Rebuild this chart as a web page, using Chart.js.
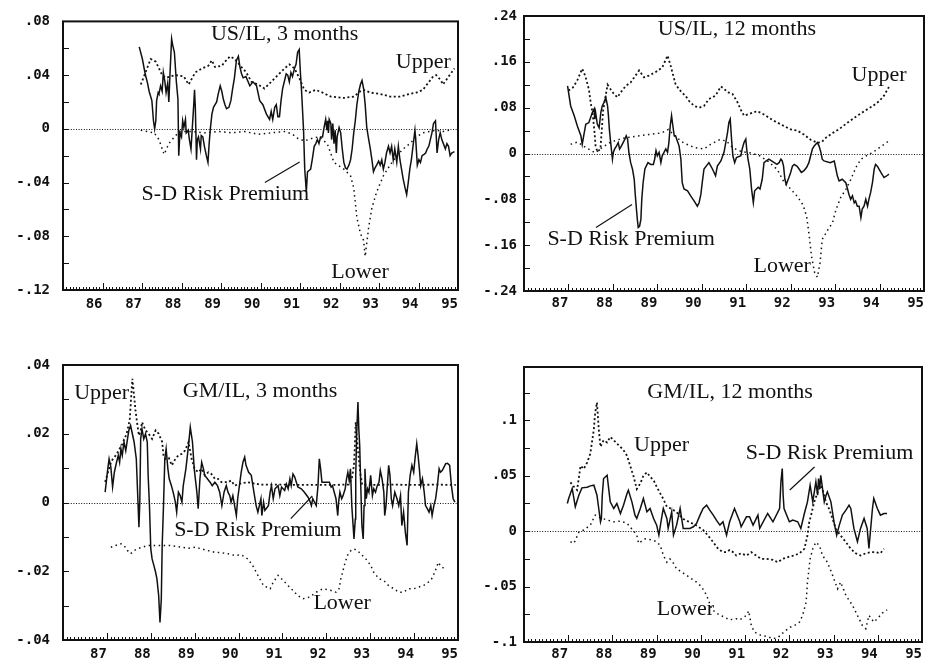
<!DOCTYPE html>
<html>
<head>
<meta charset="utf-8">
<script src="https://cdn.jsdelivr.net/npm/chart.js@4.4.1/dist/chart.umd.min.js"></script>
<style>
  body { margin: 0; background: #fff; }
  #wrap { position: relative; width: 928px; height: 667px; }
  canvas { position: absolute; }
</style>
</head>
<body>
<div id="wrap">
  <canvas id="usil3" width="464" height="320" style="left:0;top:0"></canvas>
  <canvas id="usil12" width="464" height="320" style="left:464px;top:0"></canvas>
  <canvas id="gmil3" width="464" height="347" style="left:0;top:320px"></canvas>
  <canvas id="gmil12" width="464" height="347" style="left:464px;top:320px"></canvas>
</div>
<script>
const INK = '#111'
const tickFont = { family: '"DejaVu Sans Mono", monospace', size: 14, weight: 'bold' }

// ---------- US/IL, 3 months ----------
const usil3Years = [86.93,87.01,87.08,87.14,87.18,87.25,87.29,87.32,87.35,87.37,
  87.41,87.43,87.47,87.51,87.54,87.58,87.61,87.65,87.68,87.71,
  87.75,87.78,87.82,87.87,87.91,87.93,87.96,88.00,88.03,88.06,
  88.10,88.12,88.17,88.20,88.24,88.27,88.31,88.33,88.35,88.38,
  88.40,88.43,88.48,88.50,88.54,88.58,88.63,88.67,88.70,88.73,
  88.77,88.81,88.85,88.89,88.93,88.98,89.02,89.06,89.10,89.14,
  89.20,89.25,89.29,89.34,89.39,89.44,89.48,89.52,
  89.56,89.63,89.73,89.81,89.90,89.98,90.06,90.15,90.23,90.27,
  90.31,90.36,90.40,90.44,90.48,90.52,90.56,90.61,90.65,90.69,
  90.73,90.77,90.81,90.86,90.90,90.94,90.98,91.01,91.04,91.09,
  91.12,91.16,91.19,91.23,91.27,91.31,91.36,91.40,91.44,91.48,
  91.52,91.57,91.61,91.65,91.68,91.70,91.72,91.74,91.78,91.80,
  91.83,91.86,91.89,91.92,91.94,91.99,92.03,92.07,92.11,92.15,
  92.19,92.24,92.28,92.32,92.36,92.40,92.44,92.49,92.53,92.57,
  92.61,92.65,92.69,92.74,92.78,92.82,92.86,92.90,92.94,92.99,
  93.03,93.07,93.11,93.15,93.19,93.24,93.28,93.32,93.36,93.40,
  93.45,93.49,93.53,93.57,93.61,93.66,93.70,93.74,93.78,93.82,
  93.86,93.91,93.93,93.97,94.01,94.05,94.09,94.14,94.18,94.22,
  94.26,94.30,94.34,94.38,94.43,94.47,94.51,94.55,94.59,94.63,
  94.68,94.72,94.76,94.80,94.84,94.91]
const usil3Premium = [0.061,0.052,0.041,0.034,0.028,0.021,0.006,0.000,0.006,0.021,
  0.027,0.026,0.032,0.028,0.042,0.035,0.027,0.034,0.020,0.042,
  0.067,0.062,0.057,0.035,0.022,-0.020,-0.003,-0.006,0.006,0.001,
  0.007,-0.003,-0.001,-0.008,-0.015,-0.001,0.018,0.029,0.016,-0.023,
  -0.008,-0.006,-0.015,-0.005,-0.006,-0.013,-0.020,-0.025,-0.011,0.000,
  0.011,0.016,0.018,0.020,0.026,0.032,0.028,0.022,0.018,0.015,
  0.016,0.021,0.029,0.038,0.051,0.054,0.046,0.041,
  0.038,0.039,0.032,0.035,0.032,0.021,0.018,0.011,0.007,0.013,
  0.007,0.016,0.018,0.009,0.009,0.021,0.030,0.036,0.041,0.040,
  0.035,0.042,0.039,0.045,0.048,0.057,0.059,0.042,0.028,-0.001,
  -0.030,-0.047,-0.032,-0.031,-0.030,-0.023,-0.013,-0.011,-0.008,-0.011,
  -0.006,-0.006,0.001,0.007,-0.001,0.006,-0.003,0.007,0.004,-0.008,
  0.004,-0.011,-0.001,-0.018,-0.006,0.001,-0.003,-0.015,-0.025,-0.029,
  -0.030,-0.027,-0.023,-0.015,-0.003,0.006,0.018,0.028,0.033,0.036,
  0.030,0.018,0.001,-0.008,-0.015,-0.023,-0.032,-0.029,-0.027,-0.024,
  -0.027,-0.023,-0.030,-0.025,-0.018,-0.013,-0.018,-0.013,-0.023,-0.015,
  -0.025,-0.013,-0.023,-0.030,-0.037,-0.044,-0.049,-0.040,-0.030,-0.023,
  -0.013,-0.001,-0.008,-0.027,-0.023,-0.025,-0.020,-0.019,-0.018,-0.015,
  -0.013,-0.008,-0.003,0.004,0.006,-0.018,-0.008,-0.003,-0.008,-0.011,
  -0.015,-0.011,-0.013,-0.020,-0.018,-0.017]
const usil3UpperYears = [86.97,87.22,87.35,87.51,87.60,87.85,88.06,88.18,88.35,88.52,
  88.68,88.77,88.85,89.02,89.10,89.23,89.35,89.52,89.64,89.77,
  89.94,90.10,90.27,90.44,90.61,90.73,90.86,90.98,91.11,91.23,
  91.40,91.57,91.78,92.11,92.36,92.53,92.61,92.78,93.03,93.28,
  93.53,93.78,93.95,94.11,94.24,94.37,94.45,94.57,94.62,94.74,94.91]
const usil3Upper = [0.033,0.052,0.050,0.040,0.038,0.040,0.039,0.033,0.042,0.045,
  0.047,0.051,0.046,0.047,0.050,0.054,0.052,0.046,0.042,0.035,
  0.033,0.030,0.035,0.040,0.045,0.048,0.045,0.038,0.029,0.027,
  0.029,0.027,0.024,0.023,0.024,0.028,0.029,0.027,0.026,0.024,
  0.024,0.026,0.027,0.029,0.034,0.039,0.040,0.036,0.033,0.038,0.045]
const usil3LowerYears = [86.97,87.14,87.31,87.43,87.56,87.68,87.85,87.97,88.27,88.60,
  88.93,89.27,89.60,89.94,90.27,90.61,90.81,90.94,91.11,91.32,
  91.48,91.69,91.86,92.11,92.28,92.36,92.44,92.53,92.61,92.65,
  92.74,92.82,92.94,93.11,93.28,93.45,93.61,93.78,93.95,94.11,
  94.28,94.45,94.62,94.78]
const usil3Lower = [-0.001,-0.002,-0.003,-0.008,-0.019,-0.011,-0.005,-0.002,-0.002,-0.003,
  -0.002,-0.003,-0.002,-0.004,-0.003,-0.002,-0.004,-0.007,-0.009,-0.007,
  -0.006,-0.011,-0.025,-0.030,-0.035,-0.044,-0.066,-0.078,-0.083,-0.095,
  -0.073,-0.059,-0.047,-0.035,-0.027,-0.020,-0.015,-0.011,-0.006,-0.003,
  -0.002,-0.001,-0.002,-0.001]

// ---------- US/IL, 12 months ----------
const usil12Years = [86.98,87.05,87.13,87.20,87.28,87.31,87.35,87.39,87.46,87.54,
  87.58,87.59,87.61,87.65,87.69,87.73,87.76,87.80,87.84,87.88,
  87.90,87.92,87.95,87.99,88.01,88.04,88.08,88.12,88.15,88.19,
  88.23,88.27,88.30,88.33,88.36,88.40,88.44,88.48,88.50,88.53,
  88.55,88.57,88.60,88.63,88.65,88.68,88.72,88.75,88.79,88.85,
  88.91,88.94,88.97,89.00,89.04,89.08,89.11,89.15,89.19,89.23,
  89.26,89.29,89.32,89.35,89.38,89.41,89.45,89.49,89.53,89.56,
  89.60,89.68,89.75,89.83,89.90,89.94,89.98,90.01,90.05,90.13,
  90.16,90.24,90.31,90.35,90.43,90.50,90.54,90.58,90.61,90.64,
  90.67,90.70,90.74,90.78,90.88,90.91,90.95,90.99,91.01,91.04,
  91.08,91.12,91.14,91.16,91.19,91.27,91.31,91.36,91.40,91.45,
  91.51,91.63,91.69,91.74,91.78,91.81,91.84,91.87,91.90,91.96,
  92.00,92.04,92.08,92.14,92.19,92.24,92.30,92.36,92.41,92.45,
  92.49,92.53,92.60,92.64,92.68,92.71,92.75,92.89,92.98,93.01,
  93.05,93.09,93.16,93.24,93.28,93.31,93.35,93.39,93.43,93.46,
  93.50,93.54,93.58,93.61,93.65,93.69,93.73,93.76,93.80,93.84,
  93.88,93.91,93.95,94.03,94.10,94.18,94.21]
const usil12Premium = [0.118,0.083,0.066,0.048,0.031,0.016,0.034,0.051,0.054,0.072,
  0.078,0.060,0.072,0.051,0.045,0.072,0.083,0.089,0.098,0.083,
  0.066,0.043,0.019,-0.010,0.002,0.008,0.013,0.019,0.008,0.013,
  0.019,0.025,0.031,0.025,0.002,-0.016,-0.027,-0.045,-0.068,-0.097,
  -0.115,-0.129,-0.127,-0.115,-0.080,-0.051,-0.027,-0.022,-0.016,-0.019,
  -0.019,-0.010,0.005,-0.004,0.002,-0.016,-0.004,0.002,0.008,0.002,
  0.019,0.048,0.066,0.048,0.031,0.031,0.022,0.013,-0.010,-0.051,
  -0.062,-0.065,-0.074,-0.083,-0.092,-0.086,-0.071,-0.051,-0.027,-0.019,
  -0.016,-0.027,-0.039,-0.022,-0.013,0.002,0.019,0.037,0.054,0.060,
  0.025,-0.004,-0.016,-0.007,-0.004,0.008,0.019,0.025,0.008,-0.010,
  -0.027,-0.062,-0.074,-0.086,-0.065,-0.059,-0.062,-0.045,-0.016,-0.013,
  -0.010,-0.016,-0.019,-0.016,-0.010,-0.013,-0.022,-0.045,-0.054,-0.042,
  -0.033,-0.022,-0.019,-0.022,-0.027,-0.033,-0.030,-0.024,-0.016,-0.004,
  0.008,0.013,0.019,0.013,0.002,-0.010,-0.013,-0.016,-0.013,-0.024,
  -0.039,-0.048,-0.045,-0.051,-0.062,-0.071,-0.080,-0.074,-0.086,-0.083,
  -0.092,-0.092,-0.112,-0.097,-0.092,-0.080,-0.092,-0.080,-0.068,-0.051,
  -0.027,-0.019,-0.022,-0.033,-0.042,-0.038,-0.036]
const usil12UpperYears = [87.00,87.10,87.20,87.31,87.38,87.46,87.50,87.54,87.58,87.61,
  87.65,87.72,87.78,87.88,87.99,88.10,88.18,88.29,88.40,88.59,
  88.70,88.81,88.96,89.11,89.23,89.30,89.41,89.49,89.56,89.64,
  89.71,89.83,89.94,90.05,90.16,90.31,90.43,90.50,90.58,90.69,
  90.80,90.88,90.95,91.10,91.25,91.40,91.60,91.80,92.00,92.15,
  92.30,92.45,92.60,92.70,92.80,92.95,93.10,93.30,93.50,93.70,
  93.85,94.00,94.10,94.18,94.21]
const usil12Upper = [0.110,0.115,0.128,0.148,0.135,0.112,0.089,0.072,0.043,0.014,
  0.003,0.008,0.075,0.120,0.107,0.098,0.107,0.118,0.124,0.145,
  0.133,0.136,0.142,0.150,0.171,0.153,0.121,0.112,0.106,0.100,
  0.092,0.083,0.080,0.083,0.095,0.101,0.117,0.113,0.107,0.104,
  0.090,0.076,0.066,0.070,0.074,0.068,0.058,0.050,0.042,0.040,
  0.033,0.024,0.019,0.020,0.028,0.036,0.043,0.055,0.066,0.076,
  0.083,0.092,0.101,0.112,0.116]
const usil12LowerYears = [87.05,87.20,87.40,87.60,87.75,87.95,88.20,88.50,88.80,89.10,
  89.25,89.40,89.60,89.85,90.05,90.20,90.40,90.55,90.70,90.90,
  91.10,91.30,91.50,91.70,91.85,92.00,92.15,92.28,92.36,92.42,
  92.47,92.54,92.60,92.66,92.71,92.83,92.94,93.02,93.13,93.24,
  93.36,93.47,93.58,93.70,93.85,94.03,94.21]
const usil12Lower = [0.016,0.020,0.010,0.001,0.010,0.020,0.026,0.030,0.033,0.036,
  0.042,0.030,0.018,0.010,0.008,0.016,0.024,0.022,0.010,0.003,
  0.001,-0.004,-0.014,-0.028,-0.050,-0.062,-0.075,-0.090,-0.110,-0.145,
  -0.180,-0.208,-0.216,-0.192,-0.150,-0.134,-0.121,-0.098,-0.076,-0.063,
  -0.044,-0.024,-0.010,-0.004,0.002,0.012,0.022]

// ---------- GM/IL, 3 months ----------
const gmil3Years = [86.96,87.02,87.05,87.09,87.13,87.17,87.22,87.26,87.29,87.32,
  87.35,87.39,87.43,87.47,87.50,87.54,87.58,87.62,87.67,87.71,
  87.73,87.75,87.77,87.80,87.84,87.88,87.92,87.94,87.97,88.00,
  88.03,88.07,88.11,88.14,88.18,88.21,88.24,88.26,88.29,88.32,
  88.35,88.39,88.42,88.47,88.51,88.56,88.59,88.63,88.67,88.71,
  88.74,88.80,88.86,88.90,88.95,88.99,89.05,89.08,89.12,89.16,
  89.20,89.23,89.29,89.35,89.40,89.46,89.52,89.57,89.62,89.67,
  89.72,89.76,89.80,89.83,89.87,89.91,89.95,89.98,90.02,90.06,
  90.10,90.14,90.17,90.23,90.29,90.35,90.40,90.44,90.51,90.53,
  90.57,90.60,90.68,90.72,90.75,90.79,90.83,90.90,90.94,90.98,
  91.05,91.09,91.13,91.17,91.20,91.24,91.28,91.35,91.43,91.50,
  91.58,91.62,91.66,91.69,91.77,91.81,91.84,91.87,91.90,91.98,
  92.07,92.11,92.14,92.18,92.22,92.26,92.28,92.31,92.35,92.38,
  92.43,92.46,92.49,92.52,92.55,92.58,92.61,92.63,92.66,92.67,
  92.69,92.72,92.74,92.76,92.78,92.81,92.84,92.86,92.88,92.91,
  92.94,92.97,93.01,93.05,93.08,93.12,93.16,93.20,93.23,93.27,
  93.31,93.33,93.36,93.39,93.42,93.45,93.48,93.51,93.56,93.61,
  93.65,93.69,93.72,93.76,93.80,93.84,93.87,93.91,93.95,93.99,
  94.02,94.06,94.09,94.12,94.15,94.19,94.23,94.26,94.30,94.34,
  94.38,94.41,94.45,94.49,94.53,94.57,94.60,94.64,94.68,94.72,
  94.76,94.81,94.85,94.89,94.93]
const gmil3Premium = [0.0030,0.0098,0.0127,0.0103,0.0045,0.0088,0.0117,0.0137,0.0117,0.0156,
  0.0137,0.0176,0.0151,0.0185,0.0210,0.0224,0.0200,0.0176,0.0127,-0.0004,
  -0.0072,0.0001,0.0185,0.0214,0.0185,0.0200,0.0176,0.0079,-0.0009,-0.0135,
  -0.0164,-0.0183,-0.0203,-0.0222,-0.0271,-0.0349,-0.0281,-0.0125,-0.0009,0.0127,
  0.0156,0.0098,0.0069,0.0049,0.0030,0.0001,-0.0028,0.0030,0.0020,0.0001,
  0.0049,0.0098,0.0166,0.0219,0.0176,0.0098,0.0030,-0.0018,0.0069,0.0117,
  0.0098,0.0079,0.0069,0.0059,0.0049,0.0059,0.0049,0.0030,-0.0009,0.0030,
  0.0049,0.0030,0.0020,0.0001,0.0020,-0.0009,-0.0038,0.0011,0.0049,0.0088,
  0.0117,0.0132,0.0108,0.0088,0.0079,0.0030,-0.0009,-0.0028,0.0011,-0.0038,
  0.0001,-0.0023,-0.0009,0.0030,0.0049,0.0011,0.0040,0.0049,0.0020,0.0045,
  0.0035,0.0054,0.0040,0.0069,0.0049,0.0083,0.0074,0.0045,0.0040,0.0030,
  0.0016,0.0006,-0.0009,0.0011,-0.0009,0.0049,0.0127,0.0098,0.0059,0.0059,
  0.0059,0.0045,0.0049,0.0030,0.0011,-0.0038,0.0001,0.0030,0.0011,0.0020,
  0.0040,0.0069,0.0088,0.0064,0.0098,-0.0009,-0.0067,-0.0106,-0.0048,0.0079,
  0.0195,0.0292,0.0214,0.0166,0.0069,-0.0067,-0.0106,-0.0009,0.0098,0.0011,
  0.0040,0.0030,0.0079,0.0020,0.0040,0.0030,0.0049,0.0059,0.0093,0.0069,
  0.0030,-0.0038,-0.0009,0.0049,0.0108,0.0079,0.0011,-0.0009,0.0030,0.0011,
  -0.0009,0.0020,-0.0067,-0.0028,-0.0086,-0.0125,0.0030,0.0079,0.0108,0.0088,
  0.0127,0.0171,0.0137,0.0098,0.0049,0.0069,0.0030,-0.0009,-0.0018,-0.0028,
  -0.0009,-0.0038,-0.0009,0.0011,0.0049,0.0098,0.0088,0.0093,0.0103,0.0113,
  0.0114,0.0108,0.0049,0.0011,0.0001]
const gmil3UpperYears = [86.96,87.10,87.22,87.35,87.45,87.52,87.55,87.58,87.62,87.65,
  87.69,87.73,87.77,87.80,87.88,87.95,88.03,88.11,88.18,88.26,
  88.29,88.33,88.41,88.48,88.56,88.63,88.71,88.78,88.86,88.93,
  89.00,89.08,89.16,89.23,89.31,89.38,89.46,89.53,89.61,89.76,
  89.83,89.91,90.00,90.20,90.50,91.00,91.50,92.00,92.50,92.58,
  92.63,92.65,92.67,92.69,92.74,92.78,92.82,93.00,93.50,94.00,
  94.50,94.95]
const gmil3Upper = [0.006,0.012,0.014,0.017,0.020,0.024,0.030,0.036,0.031,0.027,
  0.023,0.0195,0.021,0.0234,0.021,0.020,0.0185,0.021,0.020,0.0176,
  0.0137,0.0127,0.013,0.0108,0.0127,0.0137,0.0142,0.0151,0.0176,0.0127,
  0.0098,0.0088,0.0098,0.0079,0.0088,0.0083,0.0069,0.0069,0.0059,0.0059,
  0.0064,0.0049,0.0054,0.0059,0.0052,0.0052,0.0051,0.0051,0.0052,0.0069,
  0.0108,0.0166,0.0234,0.0195,0.0127,0.0079,0.0051,0.0051,0.0052,0.0051,
  0.0052,0.0051]
const gmil3LowerYears = [87.09,87.20,87.32,87.39,87.47,87.54,87.62,87.69,87.80,87.95,
  88.11,88.26,88.41,88.56,88.71,88.86,89.01,89.16,89.31,89.46,
  89.61,89.76,89.91,90.06,90.21,90.32,90.44,90.57,90.72,90.79,
  90.90,91.02,91.13,91.24,91.35,91.47,91.62,91.77,91.92,92.11,
  92.22,92.29,92.33,92.37,92.41,92.48,92.56,92.63,92.71,92.78,
  92.90,93.01,93.08,93.20,93.31,93.42,93.54,93.65,93.76,93.87,
  93.99,94.10,94.21,94.32,94.40,94.47,94.55,94.62,94.74]
const gmil3Lower = [-0.0130,-0.0125,-0.0120,-0.0125,-0.0140,-0.0149,-0.0140,-0.0135,-0.0130,-0.0125,
  -0.0125,-0.0125,-0.0125,-0.0127,-0.0130,-0.0133,-0.0130,-0.0135,-0.0140,-0.0145,
  -0.0146,-0.0149,-0.0154,-0.0152,-0.0164,-0.0183,-0.0212,-0.0242,-0.0251,-0.0232,
  -0.0212,-0.0227,-0.0242,-0.0256,-0.0271,-0.0280,-0.0275,-0.0261,-0.0251,-0.0256,
  -0.0261,-0.0251,-0.0222,-0.0203,-0.0183,-0.0154,-0.0140,-0.0135,-0.0140,-0.0149,
  -0.0164,-0.0183,-0.0203,-0.0222,-0.0227,-0.0242,-0.0251,-0.0261,-0.0261,-0.0251,
  -0.0251,-0.0246,-0.0242,-0.0232,-0.0222,-0.0203,-0.0174,-0.0188,-0.0193]

// ---------- GM/IL, 12 months ----------
const gmil12Years = [86.98,87.01,87.09,87.16,87.24,87.31,87.43,87.50,87.58,87.65,
  87.69,87.73,87.75,87.77,87.80,87.88,87.91,87.95,88.03,88.10,
  88.18,88.25,88.33,88.36,88.44,88.51,88.55,88.63,88.70,88.78,
  88.85,88.93,89.00,89.05,89.11,89.15,89.23,89.26,89.34,89.38,
  89.45,89.53,89.60,89.68,89.75,89.83,89.90,89.98,90.05,90.13,
  90.20,90.28,90.35,90.43,90.50,90.58,90.65,90.76,90.88,90.91,
  91.03,91.10,91.18,91.29,91.33,91.51,91.63,91.78,91.81,91.84,
  91.86,91.88,92.00,92.08,92.19,92.26,92.34,92.41,92.47,92.53,
  92.60,92.64,92.66,92.69,92.71,92.74,92.79,92.83,92.86,92.94,
  93.01,93.07,93.13,93.20,93.28,93.35,93.39,93.46,93.54,93.61,
  93.69,93.76,93.80,93.88,93.91,93.99,94.06,94.14,94.21]
const gmil12Premium = [0.0249,0.0294,0.0384,0.0219,0.0324,0.0390,0.0396,0.0408,0.0414,0.0324,
  0.0204,0.0084,0.0114,0.0324,0.0474,0.0504,0.0399,0.0264,0.0204,0.0249,
  0.0159,0.0234,0.0339,0.0369,0.0264,0.0144,0.0114,0.0204,0.0294,0.0174,
  0.0204,0.0114,0.0054,-0.0036,0.0114,0.0204,0.0114,0.0024,0.0174,-0.0036,
  0.0054,0.0204,0.0024,0.0024,0.0024,0.0039,0.0069,0.0144,0.0204,0.0234,
  0.0189,0.0144,0.0099,0.0054,0.0084,-0.0036,0.0084,0.0204,0.0084,0.0039,
  0.0129,0.0129,0.0054,0.0144,0.0024,0.0159,0.0084,0.0204,0.0444,0.0564,
  0.0324,0.0204,0.0084,0.0099,0.0084,0.0024,0.0159,0.0264,0.0414,0.0264,
  0.0444,0.0324,0.0474,0.0384,0.0504,0.0414,0.0264,0.0324,0.0354,0.0264,
  0.0084,-0.0036,0.0054,0.0144,0.0189,0.0234,0.0204,0.0024,-0.0096,0.0024,
  0.0114,0.0024,-0.0156,0.0204,0.0294,0.0204,0.0144,0.0159,0.0159]
const gmil12UpperYears = [87.05,87.13,87.20,87.28,87.35,87.43,87.50,87.58,87.61,87.65,
  87.69,87.73,87.80,87.88,87.95,88.03,88.10,88.18,88.25,88.33,
  88.40,88.48,88.55,88.63,88.70,88.78,88.85,88.93,89.00,89.08,
  89.15,89.23,89.34,89.45,89.60,89.75,89.90,90.05,90.16,90.28,
  90.39,90.50,90.58,90.65,90.73,90.80,90.91,91.03,91.14,91.25,
  91.36,91.48,91.63,91.74,91.85,92.00,92.11,92.23,92.34,92.41,
  92.45,92.49,92.56,92.64,92.71,92.76,92.83,92.90,92.98,93.05,
  93.16,93.28,93.39,93.50,93.61,93.73,93.84,93.95,94.06,94.14]
const gmil12Upper = [0.044,0.040,0.037,0.059,0.056,0.062,0.070,0.092,0.107,0.116,
  0.092,0.076,0.082,0.080,0.085,0.082,0.079,0.076,0.073,0.068,
  0.059,0.049,0.038,0.043,0.050,0.053,0.049,0.046,0.040,0.034,
  0.029,0.022,0.020,0.017,0.011,0.008,0.005,0.001,-0.004,-0.010,
  -0.016,-0.019,-0.019,-0.017,-0.019,-0.022,-0.020,-0.022,-0.019,-0.022,
  -0.025,-0.025,-0.026,-0.028,-0.025,-0.023,-0.022,-0.020,-0.016,-0.004,
  0.008,0.014,0.026,0.035,0.041,0.036,0.026,0.020,0.011,0.002,
  -0.004,-0.010,-0.016,-0.020,-0.022,-0.020,-0.019,-0.019,-0.020,-0.016]
const gmil12LowerYears = [87.05,87.13,87.24,87.35,87.50,87.61,87.73,87.88,88.03,88.18,
  88.33,88.48,88.55,88.59,88.74,88.90,89.00,89.08,89.15,89.23,
  89.30,89.38,89.45,89.57,89.68,89.79,89.90,90.01,90.09,90.16,
  90.24,90.35,90.50,90.65,90.80,90.88,91.03,91.08,91.14,91.21,
  91.36,91.50,91.63,91.74,91.85,92.00,92.12,92.23,92.30,92.38,
  92.41,92.47,92.53,92.60,92.68,92.75,92.86,92.98,93.09,93.16,
  93.28,93.43,93.54,93.65,93.73,93.80,93.91,93.99,94.10,94.21]
const gmil12Lower = [-0.0096,-0.011,-0.001,0.001,0.0054,0.0144,0.012,0.010,0.0084,0.009,
  0.007,0.000,-0.0036,-0.011,-0.007,-0.008,-0.0096,-0.013,-0.0216,-0.028,
  -0.025,-0.029,-0.034,-0.037,-0.040,-0.043,-0.046,-0.050,-0.055,-0.061,
  -0.070,-0.074,-0.077,-0.080,-0.079,-0.080,-0.076,-0.072,-0.085,-0.091,
  -0.094,-0.095,-0.097,-0.096,-0.092,-0.087,-0.085,-0.082,-0.076,-0.064,
  -0.046,-0.025,-0.016,-0.010,-0.013,-0.022,-0.028,-0.040,-0.052,-0.046,
  -0.058,-0.067,-0.076,-0.085,-0.088,-0.076,-0.082,-0.079,-0.074,-0.071]

// tick labels
const yearLabelsFrom86 = [86,87,88,89,90,91,92,93,94,95]
const yearLabelsFrom87 = [87,88,89,90,91,92,93,94,95]
const usil3YTicks = [-0.12,-0.08,-0.04,0,0.04,0.08]
const usil12YTicks = [-0.24,-0.16,-0.08,0,0.08,0.16,0.24]
const gmil3YTicks = [-0.04,-0.02,0,0.02,0.04]
const gmil12YTicks = [-0.1,-0.05,0,0.05,0.1]


function pts(xs, ys){
    return xs.map((x, i) => ({x: x, y: ys[i]}))
}

function fmtTick(v){
    if(Math.abs(v) < 1e-9) return '0'
    let s = String(+Math.abs(v).toFixed(3)).replace(/^0/, '')
    return (v < 0 ? '-' : '') + s
}

const decor = {
    id: 'decor',
    beforeDatasetsDraw(chart, args, o){
        const {ctx, chartArea: a, scales: {y}} = chart
        let y0 = Math.round(y.getPixelForValue(0)) + 0.5
        ctx.save()
        ctx.strokeStyle = INK
        ctx.lineWidth = 1
        ctx.setLineDash([1, 1.6])
        ctx.beginPath()
        ctx.moveTo(a.left, y0)
        ctx.lineTo(a.right, y0)
        ctx.stroke()
        ctx.restore()
    },
    afterDraw(chart, args, o){
        const {ctx, chartArea: a, scales: {x, y}} = chart
        ctx.save()
        ctx.strokeStyle = INK
        ctx.lineWidth = 1
        ctx.beginPath()
        // monthly ticks, yearly ones taller
        let months = Math.round((x.max - x.min) * 12)
        for(let m = 1; m < months; m++){
            let px = Math.round(x.getPixelForValue(x.min + m / 12)) + 0.5
            let len = (m % 12 == 0) ? 7 : 3
            ctx.moveTo(px, a.bottom)
            ctx.lineTo(px, a.bottom - len)
        }
        let n = Math.round((y.max - y.min) / o.yMinor)
        for(let k = 1; k < n; k++){
            let py = Math.round(y.getPixelForValue(y.min + k * o.yMinor)) + 0.5
            ctx.moveTo(a.left, py)
            ctx.lineTo(a.left + 6, py)
        }
        ctx.stroke()

        ctx.lineWidth = 2
        ctx.strokeRect(a.left, a.top, a.right - a.left, a.bottom - a.top)

        ctx.lineWidth = 1.2
        const leaders = o.leaders || []
        leaders.forEach(l => {
            ctx.beginPath()
            ctx.moveTo(x.getPixelForValue(l[0]), y.getPixelForValue(l[1]))
            ctx.lineTo(x.getPixelForValue(l[2]), y.getPixelForValue(l[3]))
            ctx.stroke()
        })

        ctx.fillStyle = INK
        ctx.font = '22px "Liberation Serif", "Times New Roman", serif'
        ctx.textAlign = 'center'
        ctx.textBaseline = 'middle'
        o.notes.forEach(nt => {
            ctx.fillText(nt.text, x.getPixelForValue(nt.x), y.getPixelForValue(nt.y))
        })
        ctx.restore()
    }
}

function makePanel(id, c){
    return new Chart(document.getElementById(id), {
        type: 'line',
        data: {
            datasets: [
                {data: pts(c.lowerX, c.lower), borderColor: INK, borderWidth: 1.5, borderDash: [1.5, 3.5]},
                {data: pts(c.upperX, c.upper), borderColor: INK, borderWidth: 1.8, borderDash: [2, 2.5]},
                {data: pts(c.premX, c.prem), borderColor: INK, borderWidth: 1.5}
            ]
        },
        options: {
            responsive: false,
            animation: false,
            devicePixelRatio: 1,
            layout: {padding: c.pad},
            elements: {point: {radius: 0}, line: {tension: 0}},
            plugins: {
                legend: {display: false},
                tooltip: {enabled: false},
                decor: {yMinor: c.yMinor, notes: c.notes, leaders: c.leaders}
            },
            scales: {
                x: {
                    type: 'linear', min: c.xMin, max: 95,
                    grid: {display: false, drawTicks: false},
                    border: {display: false},
                    afterBuildTicks: s => { s.ticks = c.xTicks.map(v => ({value: v})) },
                    afterFit: s => { s.height = c.xH },
                    ticks: {align: 'end', font: tickFont, color: INK, padding: c.xPad,
                            maxRotation: 0, autoSkip: false, callback: v => String(v)}
                },
                y: {
                    type: 'linear', min: c.yMin, max: c.yMax,
                    grid: {display: false, drawTicks: false},
                    border: {display: false},
                    afterBuildTicks: s => { s.ticks = c.yTicks.map(v => ({value: v})) },
                    afterFit: s => { s.width = c.yW },
                    ticks: {font: tickFont, color: INK, padding: c.yPad, autoSkip: false, callback: fmtTick}
                }
            }
        },
        plugins: [decor]
    })
}

makePanel('usil3', {
    premX: usil3Years, prem: usil3Premium,
    upperX: usil3UpperYears, upper: usil3Upper,
    lowerX: usil3LowerYears, lower: usil3Lower,
    xMin: 85, xTicks: yearLabelsFrom86,
    yMin: -0.12, yMax: 0.08, yTicks: usil3YTicks, yMinor: 0.02,
    pad: {top: 15, right: 2, left: 0, bottom: 0}, xH: 30, yW: 63, xPad: 6, yPad: 13,
    notes: [
        {text: 'US/IL, 3 months', x: 90.61, y: 0.0705},
        {text: 'Upper', x: 94.12, y: 0.0494},
        {text: 'S-D Risk Premium', x: 89.11, y: -0.0487},
        {text: 'Lower', x: 92.52, y: -0.107}
    ],
    leaders: [[90.11, -0.040, 90.99, -0.0247]]
})

makePanel('usil12', {
    premX: usil12Years, prem: usil12Premium,
    upperX: usil12UpperYears, upper: usil12Upper,
    lowerX: usil12LowerYears, lower: usil12Lower,
    xMin: 86, xTicks: yearLabelsFrom87,
    yMin: -0.24, yMax: 0.24, yTicks: usil12YTicks, yMinor: 0.04,
    pad: {top: 16, right: 4, left: 0, bottom: 0}, xH: 29, yW: 60, xPad: 4, yPad: 7,
    notes: [
        {text: 'US/IL, 12 months', x: 90.79, y: 0.2175},
        {text: 'Upper', x: 93.99, y: 0.137},
        {text: 'S-D Risk Premium', x: 88.41, y: -0.150},
        {text: 'Lower', x: 91.81, y: -0.197}
    ],
    leaders: [[87.62, -0.129, 88.43, -0.089]]
})

makePanel('gmil3', {
    premX: gmil3Years, prem: gmil3Premium,
    upperX: gmil3UpperYears, upper: gmil3Upper,
    lowerX: gmil3LowerYears, lower: gmil3Lower,
    xMin: 86, xTicks: yearLabelsFrom87,
    yMin: -0.04, yMax: 0.04, yTicks: gmil3YTicks, yMinor: 0.01,
    pad: {top: 45, right: 2, left: 0, bottom: 0}, xH: 27, yW: 63, xPad: 6, yPad: 13,
    notes: [
        {text: 'GM/IL, 3 months', x: 90.49, y: 0.0325},
        {text: 'Upper', x: 86.88, y: 0.0319},
        {text: 'S-D Risk Premium', x: 90.44, y: -0.0081},
        {text: 'Lower', x: 92.36, y: -0.0292}
    ],
    leaders: [[91.19, -0.0047, 91.68, 0.0019]]
})

makePanel('gmil12', {
    premX: gmil12Years, prem: gmil12Premium,
    upperX: gmil12UpperYears, upper: gmil12Upper,
    lowerX: gmil12LowerYears, lower: gmil12Lower,
    xMin: 86, xTicks: yearLabelsFrom87,
    yMin: -0.1, yMax: 0.148, yTicks: gmil12YTicks, yMinor: 0.025,
    pad: {top: 47, right: 6, left: 0, bottom: 0}, xH: 25, yW: 60, xPad: 4, yPad: 7,
    notes: [
        {text: 'GM/IL, 12 months', x: 90.66, y: 0.125},
        {text: 'Upper', x: 89.11, y: 0.0776},
        {text: 'S-D Risk Premium', x: 92.91, y: 0.0704},
        {text: 'Lower', x: 89.65, y: -0.0708}
    ],
    leaders: [[92.01, 0.0371, 92.57, 0.0578]]
})
</script>
</body>
</html>
